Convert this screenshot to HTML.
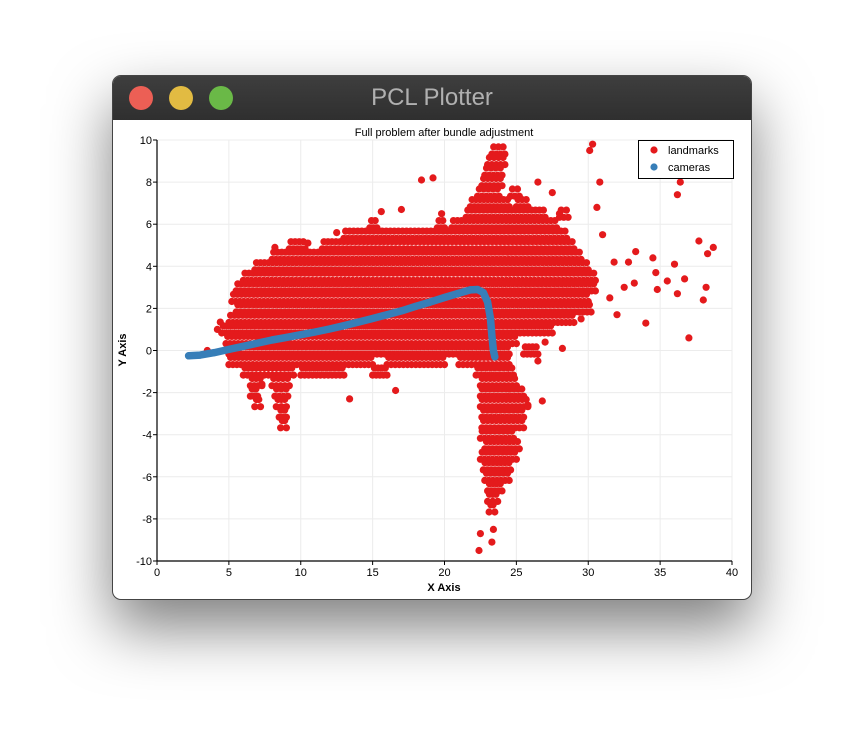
<!DOCTYPE html>
<html><head><meta charset="utf-8">
<style>
html,body{margin:0;padding:0;background:#fff;}
#wrap{position:relative;width:864px;height:748px;overflow:hidden;background:#fff;}
#win{position:absolute;left:112px;top:75px;width:640px;height:525px;border-radius:9px;background:#fff;box-shadow:0 28px 60px rgba(0,0,0,0.5);overflow:hidden;border:1px solid #444;box-sizing:border-box;}
#bar{position:absolute;left:0;top:0;width:100%;height:44px;background:linear-gradient(#3e3e3e,#2f2f2f);}
.tl{position:absolute;top:10px;width:24px;height:24px;border-radius:50%;}
#ttl{position:absolute;left:0;width:100%;top:8px;text-align:center;color:#b0b0b0;font:24px "Liberation Sans",sans-serif;}
svg{position:absolute;left:0;top:0;}
</style></head>
<body>
<div id="wrap">
<div id="win">
<div id="bar">
<div class="tl" style="left:16px;background:#ec5f55"></div>
<div class="tl" style="left:56px;background:#e2bb42"></div>
<div class="tl" style="left:96px;background:#6ab947"></div>
<div id="ttl">PCL Plotter</div>
</div>
</div>
<svg id="chart" width="864" height="748"></svg>
</div>
<script>
const xTicks=[0,5,10,15,20,25,30,35,40];
const yTicks=[-10,-8,-6,-4,-2,0,2,4,6,8,10];
// dense landmark bands: center Y, and x segments
const bandY=[9.5,9,8.5,8,7.5,7.5,7,7,6.5,6.5,6,6,6,5.5,5,5,4.5,4,3.5,3,2.5,2,1.5,1,0.5,0,0,-0.5,-0.5,-0.5,-1,-1,-1,-1,-1.5,-1.5,-1.5,-2,-2,-2,-2.5,-2.5,-2.5,-3,-3,-3.5,-3.5,-4,-4.5,-5,-5.5,-6,-6.5,-7,-7.5];
const bandXMin=[23.3,23,22.8,22.6,22.3,24.6,21.8,25,21.5,28,20.5,14.8,19.5,13,9.2,11.5,8,6.8,6,5.5,5.2,5.5,5,4.5,4.8,5,25.5,5,16,21,6,10,15,22.2,6.5,8,22.5,6.5,8.2,22.5,6.8,8.3,22.5,8.5,22.6,8.6,22.6,22.5,22.8,22.5,22.7,22.8,23,23,23.1];
const bandXMax=[24.2,24.2,24,24,23.8,25.2,24.5,25.8,27,28.6,27.8,15.3,20,28.5,10.3,29,29.5,30,30.5,30.5,30,30.2,29,27.5,25,24.5,26.5,15,20,24.5,9.5,13,16,24.8,7.3,9.2,25,7,9.1,25.5,7.2,9,25.8,9,25.5,9,25.5,24.8,25.2,25,24.6,24.5,24,23.7,23.5];
// scattered landmarks
const lmX=[30.1,30.3,38.7,38.3,37.7,36,34.7,33.3,32.8,31.8,34.8,36.2,38,38.2,37,34,36.7,35.5,33.2,32.5,34.5,31,30.6,30.8,27.5,26.5,28,36.4,36.2,19.2,18.4,17,4.4,4.2,28.2,26.5,13.4,16.6,23.4,22.5,22.4,23.3,31.5,32,29.5,27,12.5,10.5,8.2,3.5,25.8,26.8,19.8,15.6,7.3];
const lmY=[9.5,9.8,4.9,4.6,5.2,4.1,3.7,4.7,4.2,4.2,2.9,2.7,2.4,3.0,0.6,1.3,3.4,3.3,3.2,3.0,4.4,5.5,6.8,8.0,7.5,8.0,6.5,8.0,7.4,8.2,8.1,6.7,1.35,1.0,0.1,-0.5,-2.3,-1.9,-8.5,-8.7,-9.5,-9.1,2.5,1.7,1.5,0.4,5.6,5.1,4.9,0.0,-2.6,-2.4,6.5,6.6,-1.6];
const camX=[2.2,3,4,5,6,7,8,9,10,11,12,13,14,15,16,17,18,19,20,21,21.8,22.3,22.7,23,23.2,23.3,23.4,23.5];
const camY=[-0.25,-0.22,-0.1,0.05,0.2,0.35,0.5,0.62,0.75,0.88,1.02,1.18,1.35,1.52,1.7,1.88,2.1,2.3,2.52,2.72,2.88,2.9,2.75,2.3,1.5,0.7,0,-0.3];

const L=157,R=732,T=140,B=561;
const sx=v=>L+(v-0)/(40-0)*(R-L);
const sy=v=>B-(v+10)/20*(B-T);
const NS="http://www.w3.org/2000/svg";
const svg=document.getElementById('chart');
function mk(t,a,p){const e=document.createElementNS(NS,t);for(const k in a)e.setAttribute(k,a[k]);(p||svg).appendChild(e);return e;}
const F='"Liberation Sans",sans-serif';
xTicks.forEach(v=>{if(v>0){const l=mk('line',{x1:sx(v),x2:sx(v),y1:T,y2:B,stroke:'#ececec','stroke-width':1});

}});
yTicks.forEach(v=>{if(v>-10){const l=mk('line',{x1:L,x2:R,y1:sy(v),y2:sy(v),stroke:'#ececec','stroke-width':1});

}});
const gL=mk('g',{fill:'#e41a1c'});


function dot(x,y,g,name){const c=mk('circle',{cx:sx(x).toFixed(1),cy:sy(y).toFixed(1),r:3.6},g);

}
bandY.forEach((y,i)=>{
  [-0.17,0.17].forEach((o,j)=>{
    const a=bandXMin[i]+j*0.12,b=bandXMax[i]-j*0.12;
    const n=Math.max(1,Math.round((b-a)/0.28));
    for(let k=0;k<=n;k++)dot(a+(b-a)*k/n,y+o,gL,'landmark-point');
  });
});
lmX.forEach((x,i)=>dot(x,lmY[i],gL,'landmark-point'));
const gC=mk('g',{fill:'#377eb8'});


const pl=mk('polyline',{points:camX.map((x,i)=>sx(x).toFixed(1)+','+sy(camY[i]).toFixed(1)).join(' '),fill:'none',stroke:'#377eb8','stroke-width':7.5,'stroke-linejoin':'round','stroke-linecap':'round'},gC);


camX.forEach((x,i)=>dot(x,camY[i],gC,'camera-point'));
const ax=mk('line',{x1:L,x2:L,y1:T,y2:B,stroke:'#000','stroke-width':1.2});


const bx=mk('line',{x1:L,x2:R,y1:B,y2:B,stroke:'#000','stroke-width':1.2});


xTicks.forEach(v=>{mk('line',{x1:sx(v),x2:sx(v),y1:B,y2:B+4,stroke:'#000'});
const t=mk('text',{x:sx(v),y:B+15,'text-anchor':'middle','font-family':F,'font-size':11});t.textContent=v;

});
yTicks.forEach(v=>{mk('line',{x1:L-4,x2:L,y1:sy(v),y2:sy(v),stroke:'#000'});
const t=mk('text',{x:L-5,y:sy(v)+4,'text-anchor':'end','font-family':F,'font-size':11});t.textContent=v;

});
let t=mk('text',{x:444,y:591,'text-anchor':'middle','font-family':F,'font-size':11,'font-weight':'bold'});t.textContent='X Axis';


t=mk('text',{x:0,y:0,'text-anchor':'middle','font-family':F,'font-size':11,'font-weight':'bold',transform:'translate(126,350) rotate(-90)'});t.textContent='Y Axis';


t=mk('text',{x:444,y:136,'text-anchor':'middle','font-family':F,'font-size':11});t.textContent='Full problem after bundle adjustment';


const lg=mk('g',{});


mk('rect',{x:638.5,y:140.5,width:95,height:38,fill:'#fff',stroke:'#000'},lg);
[['landmarks','#e41a1c',150],['cameras','#377eb8',167]].forEach(([n,c,y])=>{
 const e=mk('g',{},lg);
 
 
 mk('circle',{cx:654,cy:y,r:3.6,fill:c},e);
 const tx=mk('text',{x:668,y:y+4,'font-family':F,'font-size':11},e);tx.textContent=n;
});
</script>
</body></html>
